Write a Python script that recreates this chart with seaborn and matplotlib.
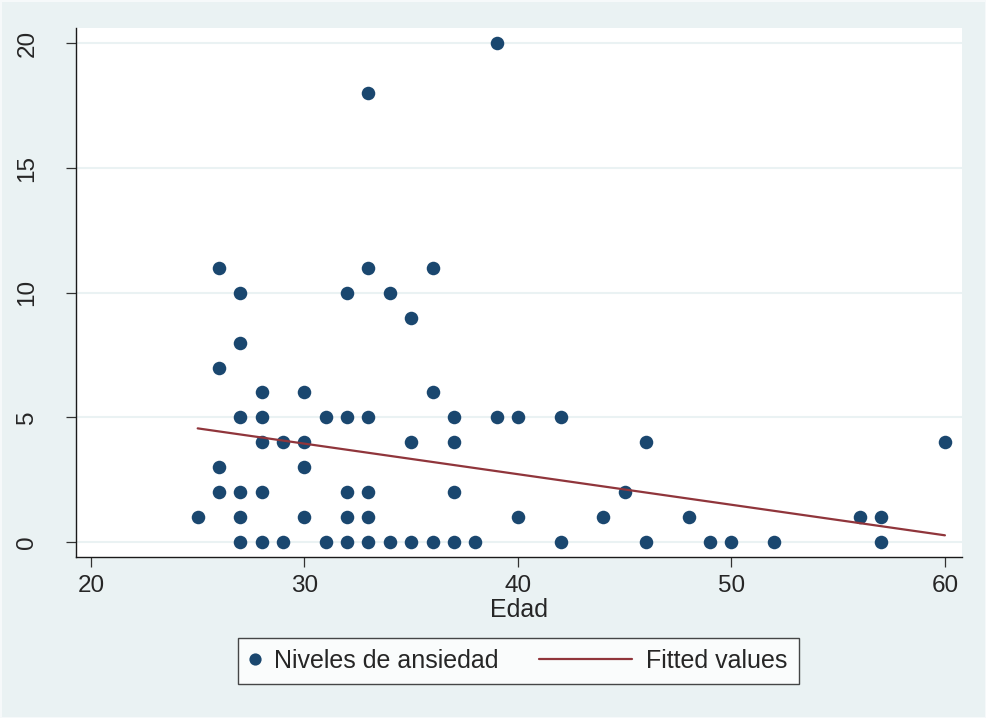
import numpy as np
import pandas as pd
import matplotlib
matplotlib.use("Agg")
import matplotlib.pyplot as plt
import seaborn as sns
from matplotlib.legend_handler import HandlerLine2D
from matplotlib.lines import Line2D

# ---- data ----
edad = [25,
        26, 26, 26, 26,
        27, 27, 27, 27, 27, 27,
        28, 28, 28, 28, 28,
        29, 29,
        30, 30, 30, 30,
        31, 31,
        32, 32, 32, 32, 32,
        33, 33, 33, 33, 33, 33,
        34, 34,
        35, 35, 35,
        36, 36, 36,
        37, 37, 37, 37,
        38,
        39, 39,
        40, 40,
        42, 42,
        44, 45,
        46, 46,
        48, 49, 50, 52, 56,
        57, 57,
        60]
ansiedad = [1,
            11, 7, 3, 2,
            10, 8, 5, 2, 1, 0,
            6, 5, 4, 2, 0,
            4, 0,
            6, 4, 3, 1,
            5, 0,
            10, 5, 2, 1, 0,
            18, 11, 5, 2, 1, 0,
            10, 0,
            9, 4, 0,
            11, 6, 0,
            5, 4, 2, 0,
            0,
            20, 5,
            5, 1,
            5, 0,
            1, 2,
            4, 0,
            1, 0, 0, 0, 1,
            1, 0,
            4]
fit_edad = [25, 60]
fit_values = [4.56, 0.27]
x_ticks = [20, 30, 40, 50, 60]
y_ticks = [0, 5, 10, 15, 20]
x_label = "Edad"
series_labels = ["Niveles de ansiedad", "Fitted values"]

df = pd.DataFrame({"Edad": edad, "Ansiedad": ansiedad})
df_fit = pd.DataFrame({"Edad": fit_edad, "Fitted": fit_values})

BG = "#EAF2F3"
NAVY = "#1A476F"
MAROON = "#90353B"

sns.set_theme(style="white")
plt.rcParams['font.family'] = ['Liberation Sans', 'DejaVu Sans']

W, H = 986, 718
fig = plt.figure(figsize=(W / 100, H / 100), dpi=100, facecolor=BG)
fig.patch.set_edgecolor("#F6F9FA")
fig.patch.set_linewidth(2.0)

L, R, T, B = 76, 962, 27.5, 557
ax = fig.add_axes([L / W, 1 - B / H, (R - L) / W, (B - T) / H])
ax.set_facecolor("white")

sns.scatterplot(data=df, x="Edad", y="Ansiedad", ax=ax, color=NAVY, s=95,
                linewidth=0, edgecolor=NAVY, label=series_labels[0], zorder=3)
sns.lineplot(data=df_fit, x="Edad", y="Fitted", ax=ax, color=MAROON,
             linewidth=1.6, label=series_labels[1], zorder=4)

ax.set_xlim(19.30, 60.80)
ax.set_ylim(-0.60, 20.64)
ax.set_xticks(x_ticks)
ax.set_yticks(y_ticks)
ax.set_xticklabels([str(v) for v in x_ticks])
ax.set_yticklabels([str(v) for v in y_ticks], rotation=90, va="center")

ax.yaxis.grid(True, color=BG, linewidth=1.5, zorder=0)
ax.xaxis.grid(False)
ax.set_axisbelow(True)

for side in ["top", "right"]:
    ax.spines[side].set_visible(False)
for side in ["left", "bottom"]:
    ax.spines[side].set_visible(True)
    ax.spines[side].set_color("#1a1a1a")
    ax.spines[side].set_linewidth(1.0)

ax.tick_params(axis="x", which="major", direction="out", length=7.5, width=0.9,
               color="#333333", labelsize=17.5, pad=5.5, bottom=True)
ax.tick_params(axis="y", which="major", direction="out", length=7.5, width=0.9,
               color="#333333", labelsize=17.5, pad=19.5, left=True)

ax.set_xlabel(x_label, fontsize=18, labelpad=1)
ax.set_ylabel("")

ax.get_legend().remove()


class MarkerHandler(HandlerLine2D):
    def legend_artist(self, legend, orig_handle, fontsize, handlebox):
        handlebox.width = 8.0
        return super().legend_artist(legend, orig_handle, fontsize, handlebox)


h_pt = Line2D([], [], linestyle="none", marker="o", markersize=8.8,
              markerfacecolor=NAVY, markeredgewidth=0)
h_ln = Line2D([], [], color=MAROON, linewidth=1.6)

leg = fig.legend([h_pt, h_ln], series_labels, loc="center",
                 bbox_to_anchor=(518.5 / W, 1 - 661 / H), ncol=2,
                 frameon=True, fancybox=False, fontsize=18,
                 handlelength=3.75, handletextpad=0.55, columnspacing=1.6,
                 borderpad=0.45, handler_map={h_pt: MarkerHandler(numpoints=1)})
leg.get_frame().set_edgecolor("#1a1a1a")
leg.get_frame().set_linewidth(1.0)
leg.get_frame().set_facecolor("white")

fig.savefig("out.png", dpi=100, facecolor=fig.get_facecolor(),
            edgecolor=fig.patch.get_edgecolor())
